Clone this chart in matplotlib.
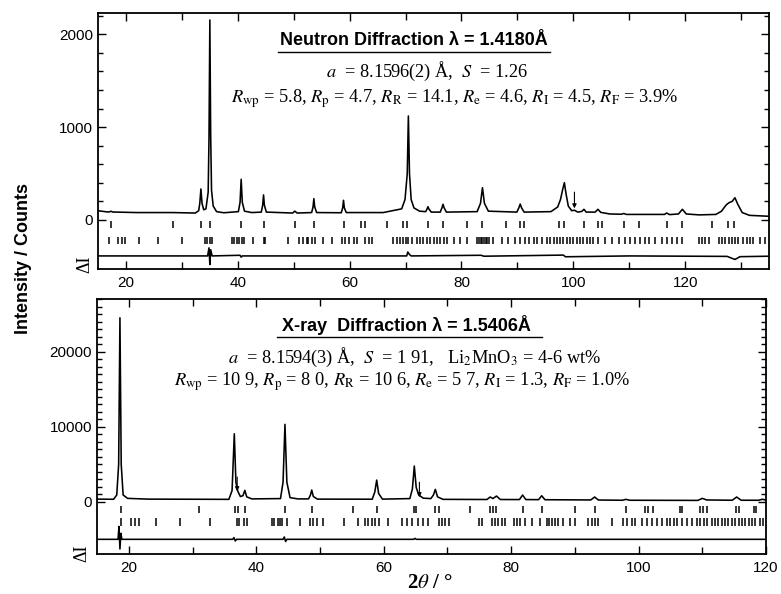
"""
Neutron / X-ray Rietveld plots for the spinel sample
Two stacked panels: observed profile, reflection markers and difference curve.
"""

import matplotlib
matplotlib.use("Agg")
import matplotlib.pyplot as plt
from matplotlib.ticker import FixedLocator, MultipleLocator

plt.rcParams["mathtext.fontset"] = "stix"

SANS  = ["Liberation Sans", "DejaVu Sans"]
SERIF = ["Liberation Serif", "DejaVu Serif"]

# ---------------------------------------------------------------------------
# Data
# ---------------------------------------------------------------------------

# neutron profile, 2theta / counts
NEUTRON_X = [15.0, 16.5, 17.0, 17.3, 17.6, 22.0, 28.4, 32.4, 33.0, 33.2, 33.4, 33.6, 33.9,
             34.3, 34.7, 34.85, 35.0, 35.15, 35.3, 35.6, 36.2, 37.5, 40.1, 40.4, 40.6, 40.8,
             41.2, 42.5, 44.2, 44.45, 44.6, 44.75, 45.1, 49.8, 50.2, 50.6, 53.2, 53.45, 53.6,
             53.75, 54.1, 58.5, 58.75, 58.9, 59.05, 59.4, 66.0, 69.3, 69.9, 70.3, 70.5, 70.7,
             71.0, 71.5, 72.5, 73.6, 73.85, 74.0, 74.2, 74.6, 76.2, 76.5, 76.7, 76.9, 77.3,
             82.8, 83.4, 83.75, 84.1, 84.8, 89.9, 90.25, 90.5, 90.75, 91.2, 96.0, 97.2, 97.7,
             98.1, 98.4, 98.7, 99.1, 99.7, 100.2, 100.8, 101.5, 101.9, 102.3, 103.9, 104.4,
             104.9, 106.5, 108.6, 109.0, 109.5, 116.3, 116.7, 117.2, 118.8, 119.5, 120.2,
             122.5, 125.5, 126.5, 127.3, 127.8, 128.4, 128.9, 129.4, 130.2, 131.5, 135.0]
NEUTRON_Y = [100, 88, 86, 95, 86, 80, 80, 75, 100, 180, 334, 180, 110,
             120, 300, 900, 2154, 900, 320, 150, 90, 78, 90, 190, 438, 190,
             95, 80, 85, 160, 270, 160, 85, 75, 95, 75, 80, 140, 230,
             140, 80, 78, 130, 212, 130, 80, 80, 120, 220, 500, 1120, 500,
             220, 130, 95, 90, 120, 143, 115, 85, 85, 130, 169, 130, 85,
             90, 180, 348, 180, 95, 85, 130, 172, 130, 85, 90, 140, 220,
             330, 402, 280, 150, 100, 105, 85, 92, 115, 85, 85, 115,
             82, 65, 62, 70, 60, 60, 75, 58, 65, 115, 65,
             55, 60, 95, 160, 185, 200, 240, 170, 80, 50, 40]

NEUTRON_DIFF_X = [15.0, 34.6, 34.85, 35.0, 35.15, 35.4, 40.4, 40.6, 40.8, 70.2, 70.4, 70.7,
                  71.0, 83.5, 84.0, 98.2, 98.6, 110.0, 127.5, 128.9, 129.8, 135.0]
NEUTRON_DIFF_Y = [-387, -387, -300, -480, -320, -387, -380, -400, -387, -387, -345, -372,
                  -387, -380, -390, -378, -396, -387, -392, -425, -395, -390]

# reflection markers, neutron panel (upper / lower row)
NEUTRON_TICKS_1 = [17.3, 28.4, 33.4, 35.0, 40.6, 44.6, 50.2, 53.6, 58.9, 62.0, 62.8, 66.6,
                   69.6, 70.3, 74.0, 76.7, 81.0, 83.75, 87.9, 90.5, 91.2, 97.5, 98.4, 101.9,
                   104.4, 105.1, 109.0, 111.7, 116.7, 119.5, 124.8, 127.7, 128.7]
NEUTRON_TICKS_2 = [17.0, 18.5, 19.2, 19.9, 22.3, 25.8, 30.1, 34.1, 34.5, 35.0, 35.4, 38.9,
                   39.4, 39.8, 40.2, 40.7, 41.1, 42.7, 44.6, 44.9, 49.0, 51.0, 51.7, 52.3,
                   52.6, 53.2, 53.8, 55.3, 56.8, 58.6, 59.2, 59.8, 60.7, 61.3, 62.8, 63.4,
                   64.0, 67.8, 68.4, 69.0, 69.6, 70.1, 70.5, 71.1, 72.0, 72.6, 73.2, 73.8,
                   74.4, 75.0, 75.6, 76.2, 76.8, 77.4, 78.6, 79.8, 81.0, 82.8, 83.1, 83.4,
                   83.7, 84.0, 84.3, 84.6, 84.9, 85.7, 87.2, 88.4, 89.6, 90.5, 91.4, 92.0,
                   92.9, 93.5, 94.4, 95.3, 95.9, 96.5, 97.1, 97.6, 98.2, 98.8, 99.4, 100.0,
                   100.6, 101.2, 101.8, 102.4, 103.0, 103.6, 104.5, 105.7, 106.9, 108.1,
                   109.3, 110.2, 111.1, 112.0, 112.9, 113.5, 114.6, 115.8, 116.7, 117.6,
                   118.5, 119.4, 122.4, 123.0, 123.6, 124.2, 126.0, 126.6, 127.2, 127.8,
                   128.4, 129.0, 129.5, 130.4, 131.0, 131.6, 132.2, 133.4, 134.3]

# x-ray profile, 2theta / counts
XRAY_X = [15.0, 17.6, 18.1, 18.4, 18.6, 18.8, 19.1, 19.8, 23.0, 35.7, 36.2, 36.55, 36.8,
          37.1, 37.5, 37.9, 38.2, 38.5, 39.3, 43.8, 44.2, 44.5, 44.8, 45.3, 46.5, 48.2,
          48.5, 48.7, 48.95, 49.6, 58.2, 58.6, 58.9, 59.2, 59.8, 64.1, 64.5, 64.8, 65.1,
          65.5, 66.2, 67.4, 67.8, 68.1, 68.45, 69.3, 76.2, 76.7, 77.15, 77.7, 78.3, 81.3,
          81.8, 82.3, 84.3, 84.8, 85.3, 92.5, 93.1, 93.7, 97.5, 98.0, 98.6, 109.3, 110.0,
          110.7, 114.7, 115.4, 116.1, 118.9, 119.4, 120.0]
XRAY_Y = [350, 330, 900, 5000, 24530, 5000, 900, 450, 350, 320, 1500, 9070, 2600,
          1400, 700, 800, 1520, 650, 380, 420, 2600, 10320, 2600, 550, 380, 380,
          900, 1560, 700, 350, 340, 1300, 2890, 1100, 350, 420, 1700, 4760, 1900,
          900, 480, 420, 900, 1650, 650, 320, 300, 630, 430, 760, 300, 290,
          890, 290, 280, 800, 270, 240, 630, 230, 200, 320, 200, 180, 450,
          240, 200, 630, 200, 200, 330, 220]

XRAY_DIFF_X = [15.0, 18.3, 18.45, 18.6, 18.75, 18.9, 36.3, 36.5, 36.7, 36.9, 44.2, 44.4,
               44.6, 44.8, 64.7, 64.9, 65.1, 120.0]
XRAY_DIFF_Y = [-5010, -5010, -3300, -6300, -4200, -5010, -5010, -4780, -5230, -5010, -5010,
               -4700, -5300, -5010, -5010, -4880, -5010, -5010]

XRAY_TICKS_1 = [18.8, 31.0, 36.6, 37.1, 38.2, 44.5, 48.7, 55.2, 58.9, 64.8, 65.1, 68.1,
                68.7, 73.6, 76.7, 77.2, 77.7, 81.8, 84.8, 90.1, 93.1, 98.0, 101.0, 101.5,
                102.2, 106.5, 106.8, 109.7, 110.1, 110.7, 115.3, 115.7, 118.1, 118.5]
XRAY_TICKS_2 = [18.7, 20.4, 20.9, 21.6, 24.2, 28.0, 32.7, 36.9, 37.25, 38.0, 38.5, 42.4,
                42.8, 43.4, 43.7, 44.1, 44.8, 46.9, 48.4, 48.9, 49.5, 50.5, 53.7, 56.0,
                57.1, 57.6, 58.1, 58.6, 59.2, 60.7, 62.8, 63.6, 64.4, 65.4, 66.2, 67.0,
                68.6, 69.1, 69.6, 70.2, 74.9, 75.4, 77.0, 77.5, 78.0, 78.6, 79.1, 80.4,
                80.9, 81.4, 82.2, 83.2, 84.5, 85.6, 85.9, 86.4, 86.9, 87.4, 88.2, 89.3,
                90.0, 92.1, 92.7, 93.2, 93.7, 95.8, 97.6, 98.2, 98.9, 99.5, 100.5, 101.3,
                102.1, 102.9, 103.6, 104.4, 105.0, 105.5, 106.0, 106.8, 107.6, 108.4,
                109.1, 109.7, 110.2, 110.7, 111.5, 112.0, 112.5, 113.1, 113.6, 114.1,
                114.6, 115.2, 115.7, 116.2, 116.7, 117.3, 117.8, 118.3, 119.1, 119.6]

# small arrows marking impurity reflections: (2theta, from, to)
NEUTRON_ARROWS = [(100.2, 300, 125)]
XRAY_ARROWS    = [(37.0, 3300, 1400), (65.6, 2600, 600)]

NEUTRON_TEXT = [
    r"$a$  = 8.1596(2) Å,  $S$  = 1.26",
    r"$R_{\rm wp}$ = 5.8, $R_{\rm p}$ = 4.7, $R_{\rm R}$ = 14.1, $R_{\rm e}$ = 4.6, "
    r"$R_{\rm I}$ = 4.5, $R_{\rm F}$ = 3.9%",
]
XRAY_TEXT = [
    r"$a$  = 8.1594(3) Å,  $S$  = 1 91,   Li$_2$MnO$_3$ = 4-6 wt%",
    r"$R_{\rm wp}$ = 10 9, $R_{\rm p}$ = 8 0, $R_{\rm R}$ = 10 6, $R_{\rm e}$ = 5 7, "
    r"$R_{\rm I}$ = 1.3, $R_{\rm F}$ = 1.0%",
]


# ---------------------------------------------------------------------------
# Helpers
# ---------------------------------------------------------------------------

def style_axes(ax, xlim, ylim, yticks, yminor):
    ax.set_xlim(*xlim)
    ax.set_ylim(*ylim)
    ax.xaxis.set_major_locator(MultipleLocator(20))
    ax.xaxis.set_minor_locator(MultipleLocator(10))
    ax.yaxis.set_major_locator(FixedLocator(yticks))
    ax.yaxis.set_minor_locator(FixedLocator(yminor))
    ax.tick_params(which="both", direction="in", top=True, right=True,
                   width=1.0, labelsize=11, color="black")
    ax.tick_params(which="major", length=6)
    ax.tick_params(which="minor", length=3.5)
    ax.tick_params(axis="x", which="minor", length=5)
    ax.tick_params(axis="x", pad=5)
    for lab in ax.get_xticklabels() + ax.get_yticklabels():
        lab.set_family(SANS)
    for sp in ax.spines.values():
        sp.set_linewidth(1.3)


def draw_panel(ax, x, y, dx, dy, ticks1, ticks2, rows, arrows):
    ax.plot(x, y, color="black", lw=1.15)
    ax.plot(dx, dy, color="black", lw=1.15)
    ax.vlines(ticks1, rows[0][0], rows[0][1], color="black", lw=1.1)
    ax.vlines(ticks2, rows[1][0], rows[1][1], color="black", lw=1.1)
    for xa, y0, y1 in arrows:
        ax.annotate("", xy=(xa, y1), xytext=(xa, y0),
                    arrowprops=dict(arrowstyle="-|>", lw=0.8, color="black",
                                    mutation_scale=6, shrinkA=0, shrinkB=0))


def header(ax, title, lines, tpos, upos, lpos):
    ax.text(tpos[0], tpos[1], title, transform=ax.transAxes, ha="center", va="center",
            family=SANS, fontweight="bold", fontsize=13)
    ax.plot(upos[0], [upos[1], upos[1]], transform=ax.transAxes, color="black", lw=1.0)
    for (px, py), s in zip(lpos, lines):
        ax.text(px, py, s, transform=ax.transAxes, ha="center", va="center",
                family=SERIF, fontsize=13.2)


# ---------------------------------------------------------------------------
# Main
# ---------------------------------------------------------------------------

def main():
    fig = plt.figure(figsize=(7.81, 5.94), dpi=100)
    ax1 = fig.add_axes([0.1255, 0.5471, 0.8592, 0.4310])
    ax2 = fig.add_axes([0.1242, 0.0673, 0.8566, 0.4293])

    draw_panel(ax1, NEUTRON_X, NEUTRON_Y, NEUTRON_DIFF_X, NEUTRON_DIFF_Y,
               NEUTRON_TICKS_1, NEUTRON_TICKS_2, [(-85, -15), (-262, -180)], NEUTRON_ARROWS)
    style_axes(ax1, (15, 135), (-528, 2229), [0, 1000, 2000],
               [v * 200 for v in range(12)])
    header(ax1, "Neutron Diffraction λ = 1.4180Å", NEUTRON_TEXT,
           (0.471, 0.894), ((0.268, 0.674), 0.848), [(0.490, 0.771), (0.531, 0.667)])

    draw_panel(ax2, XRAY_X, XRAY_Y, XRAY_DIFF_X, XRAY_DIFF_Y,
               XRAY_TICKS_1, XRAY_TICKS_2, [(-1450, -600), (-3250, -2150)], XRAY_ARROWS)
    style_axes(ax2, (15, 120), (-6970, 27030), [0, 10000, 20000],
               [v * 1000 for v in range(28)])
    header(ax2, "X-ray  Diffraction λ = 1.5406Å", XRAY_TEXT,
           (0.462, 0.897), ((0.2686, 0.6647), 0.852), [(0.475, 0.770), (0.4555, 0.6745)])

    fig.text(0.030, 1 - 258 / 594, "Intensity / Counts", rotation=90, ha="center",
             va="center", family=SANS, fontweight="bold", fontsize=13)
    fig.text(85 / 781, 1 - 264 / 594, "ΔI", rotation=90, ha="center", va="center",
             family=SERIF, fontsize=13)
    fig.text(82 / 781, 1 - 553 / 594, "ΔI", rotation=90, ha="center", va="center",
             family=SERIF, fontsize=13)
    fig.text(430 / 781, 1 - 583 / 594, r"2$\theta$ / °", ha="center", va="center",
             family=SERIF, fontweight="bold", fontsize=15)

    fig.savefig("out.png", dpi=100)
    plt.close(fig)


if __name__ == "__main__":
    main()
